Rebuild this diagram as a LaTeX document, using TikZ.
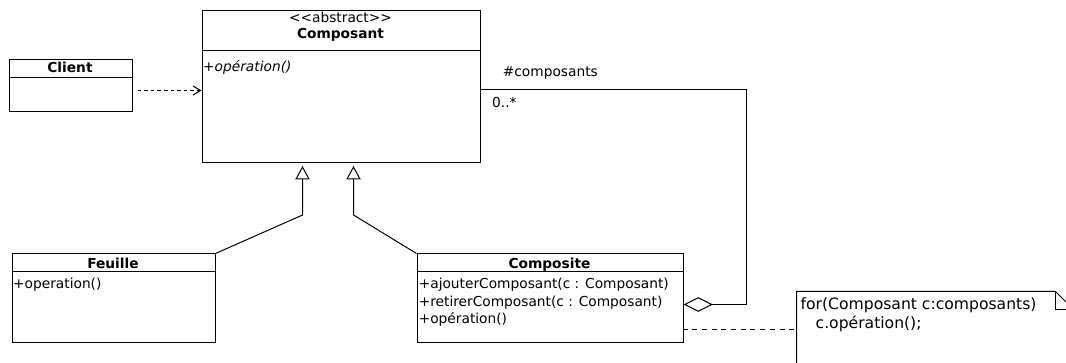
\documentclass[tikz,border=0pt]{standalone}
\usepackage{fontspec}
\setmainfont{DejaVu Sans}
\usetikzlibrary{arrows.meta}
\tikzset{
  classbox/.style={draw, line width=1pt, rectangle, inner sep=0pt, anchor=north west},
  txt/.style={inner sep=0pt, font=\fontsize{13.75}{16}\selectfont},
  ttl/.style={inner sep=0pt, anchor=base, font=\fontsize{13.75}{16}\selectfont\bfseries},
  op/.style={inner sep=0pt, anchor=base west, font=\fontsize{13.75}{16}\selectfont},
  notetxt/.style={inner sep=0pt, anchor=base west, font=\fontsize{15.6}{19}\selectfont},
  sepline/.style={line width=1pt},
  generalization/.style={line width=1pt, -{Triangle[open, length=13.5pt, width=14.4pt, line width=1pt]}},
  dependency/.style={line width=1pt, dash pattern=on 3.6pt off 3pt, -{Straight Barb[length=7.5pt, width=9pt, line width=1pt]}},
  aggregation/.style={line width=1pt, -{Diamond[open, length=29.5pt, width=14.6pt, line width=1pt]}},
  notelink/.style={line width=1pt, dash pattern=on 5pt off 4.7pt},
}
\begin{document}
\begin{tikzpicture}[x=1pt, y=-1pt]
\useasboundingbox (0,0) rectangle (1066,363);
\clip (0,0) rectangle (1066,363);

% Composant
\node[classbox, minimum width=278pt, minimum height=152pt] (composant) at (201.5,10.5) {};
\draw[sepline] (composant.north west) ++(0,40) -- ++(278,0);
\node[txt, anchor=base] (stereo) at (340.5,22.3) {<\kern0pt<abstract>\kern0pt>};
\node[ttl] (composantname) at (340.5,38.4) {Composant};
\node[op, font=\fontsize{13.75}{16}\selectfont\itshape] (composantop) at (203,72) {+opération()};

% Client
\node[classbox, minimum width=123pt, minimum height=52pt] (client) at (8.5,59.5) {};
\draw[sepline] (client.north west) ++(0,18) -- ++(123,0);
\node[ttl] (clientname) at (70,72.9) {Client};

% Feuille
\node[classbox, minimum width=203pt, minimum height=89pt] (feuille) at (11.5,253.5) {};
\draw[sepline] (feuille.north west) ++(0,18) -- ++(203,0);
\node[ttl] (feuillename) at (113,268.4) {Feuille};
\node[op] (feuilleop) at (13,288.9) {+operation()};

% Composite
\node[classbox, minimum width=266pt, minimum height=89pt] (composite) at (416.5,253.5) {};
\draw[sepline] (composite.north west) ++(0,18) -- ++(266,0);
\node[ttl] (compositename) at (549.5,268.6) {Composite};
\node[op] (compop1) at (418.6,289) {+ajouterComposant(c : Composant)};
\node[op] (compop2) at (418.6,306.4) {+retirerComposant(c : Composant)};
\node[op] (compop3) at (418.6,323.8) {+opération()};

% Note
\node[inner sep=0pt, anchor=north west, minimum width=277pt, minimum height=90pt] (note) at (796.5,291.5) {};
\draw[line width=1pt] (796.5,390) -- (796.5,291.5) -- (1055.5,291.5) -- (1073.5,309.5) -- (1073.5,390);
\draw[line width=1pt] (1055.5,291.5) -- (1055.5,309.5) -- (1073.5,309.5);
\node[notetxt] (notel1) at (800.5,309.8) {for(Composant c:composants)};
\node[notetxt] (notel2) at (815.5,328.7) {c.opération();};

% Connectors
\coordinate (g1tip) at (302.5,166);
\coordinate (g1bend) at (302.5,215);
\coordinate (g2tip) at (353.5,166);
\coordinate (g2bend) at (353.5,215);
\draw[generalization] (feuille.north east) -- (g1bend) -- (g1tip);
\draw[generalization] (composite.north west) -- (g2bend) -- (g2tip);

\coordinate (depstart) at (137.5,90.5);
\draw[dependency] (depstart) -- (depstart -| composant.west);

\coordinate (assocA) at (479.5,89.5);
\coordinate (assocB) at (746.5,89.5);
\coordinate (assocC) at (746.5,304.5);
\draw[aggregation] (assocA) -- (assocB) -- (assocC) -- (assocC -| composite.east);
\node[txt, anchor=base west] (rolename) at (502.7,77) {\#composants};
\node[txt, anchor=base west] (mult) at (492,107.3) {0..*};

\coordinate (linkA) at (682.5,329.5);
\draw[notelink] (linkA) -- (linkA -| note.west);
\end{tikzpicture}
\end{document}
